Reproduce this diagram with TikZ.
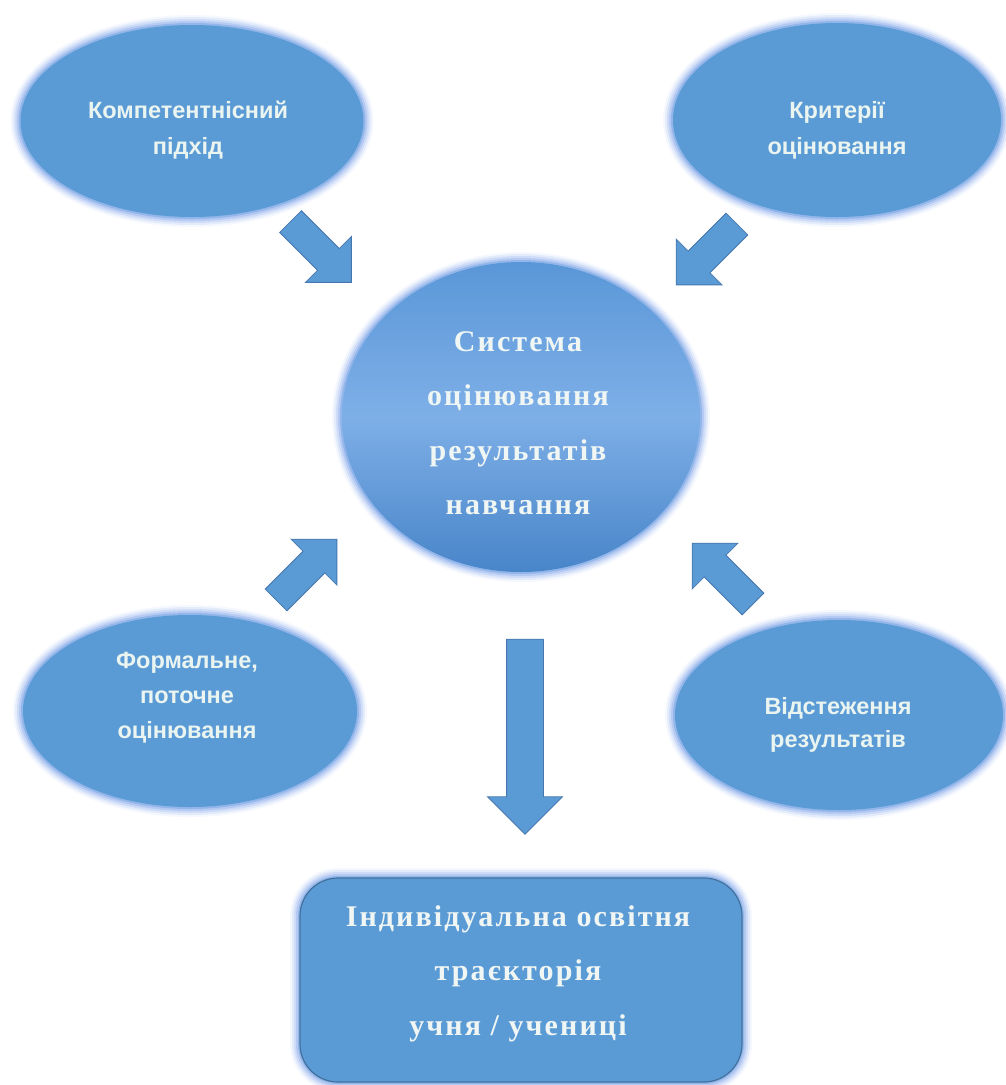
\documentclass[tikz,border=0pt]{standalone}
\usepackage{fontspec}
\setmainfont{Liberation Serif}
\newfontfamily\ovalfont{Liberation Sans}
\newfontfamily\bigserif{Liberation Serif}[LetterSpace=7]
\usetikzlibrary{shapes.geometric,shapes.arrows}
\definecolor{bfill}{HTML}{5B9BD5}
\definecolor{bline}{HTML}{4677AE}
\definecolor{boxline}{HTML}{41719C}
\definecolor{glowA}{HTML}{F5F8FE}
\definecolor{glowB}{HTML}{E4ECFB}
\definecolor{glowC}{HTML}{CEDCF7}
\definecolor{glowD}{HTML}{B5CAF2}
\definecolor{glowE}{HTML}{93B6EA}
\definecolor{ctop}{HTML}{5A97D8}
\definecolor{cmid}{HTML}{7EAFE7}
\definecolor{cbot}{HTML}{4885C9}
\definecolor{ovaltext}{HTML}{EAF4F0}
\definecolor{bigtext}{HTML}{F0F6F4}
\tikzset{
  glow/.style={preaction={draw=glowA,line width=20pt},
               preaction={draw=glowB,line width=16pt},
               preaction={draw=glowC,line width=12pt},
               preaction={draw=glowD,line width=8pt},
               preaction={draw=glowE,line width=4pt}},
  oval/.style={ellipse,inner sep=0pt,fill=bfill,glow},
  ovaltxt/.style={align=center,text=ovaltext,inner sep=0pt,
                  font=\ovalfont\bfseries\fontsize{23.5}{36}\selectfont},
  bigtxt/.style={align=center,text=bigtext,inner sep=0pt,
                 font=\bigserif\bfseries\fontsize{30}{54.5}\selectfont},
  diagarrow/.style={single arrow,single arrow tip angle=90,inner xsep=0pt,
                    inner ysep=15pt,
                    fill=bfill,draw=bline,line width=0.8pt,
                    single arrow head extend=17pt,
                    minimum height=86pt},
  downarrow/.style={single arrow,single arrow tip angle=90,inner xsep=0pt,
                    inner ysep=18pt,
                    fill=bfill,draw=bline,line width=0.8pt,
                    single arrow head extend=19pt,
                    minimum height=195pt}
}
\begin{document}
\begin{tikzpicture}[x=1pt,y=-1pt]
\useasboundingbox[fill=white] (0,0) rectangle (1006,1085);
% ovals
\node[oval,minimum width=343pt,minimum height=192pt] (tl) at (192,121) {};
\node[oval,minimum width=328pt,minimum height=194pt] (tr) at (837,120) {};
\node[oval,minimum width=334pt,minimum height=192pt] (bl) at (190,711) {};
\node[oval,minimum width=328pt,minimum height=190pt] (br) at (839,715) {};
% centre
\node[ellipse,inner sep=0pt,minimum width=358pt,minimum height=310pt,
      glow,top color=ctop,bottom color=cbot,middle color=cmid] (c) at (521,417) {};
% bottom box
\node[rectangle,rounded corners=38pt,inner sep=0pt,minimum width=442pt,
      minimum height=204pt,fill=bfill,glow,draw=boxline,line width=1.2pt] (box) at (521,980) {};
% texts
\node[ovaltxt] (tltxt) at (188,130) {Компетентнісний\\підхід};
\node[ovaltxt] (trtxt) at (837,130) {Критерії\\оцінювання};
\node[ovaltxt,font=\ovalfont\bfseries\fontsize{23.5}{35}\selectfont] (bltxt) at (187,698) {Формальне,\\поточне\\оцінювання};
\node[ovaltxt,font=\ovalfont\bfseries\fontsize{23.5}{33}\selectfont] (brtxt) at (838,724.5) {Відстеження\\результатів};
\node[bigtxt] (ctxt) at (518,423) {Система\\оцінювання\\результатів\\навчання};
\node[bigtxt] (boxtxt) at (518,973.5) {Індивідуальна освітня\\траєкторія\\учня / учениці};
% arrows
\node[diagarrow,rotate=-45] (a1) at (315.5,246.5) {};
\node[diagarrow,rotate=-135] (a2) at (712,249) {};
\node[diagarrow,rotate=45] (a3) at (301,575) {};
\node[diagarrow,rotate=135] (a4) at (728,579) {};
\node[downarrow,rotate=-90] (a5) at (525,727.5) {};
\end{tikzpicture}
\end{document}
